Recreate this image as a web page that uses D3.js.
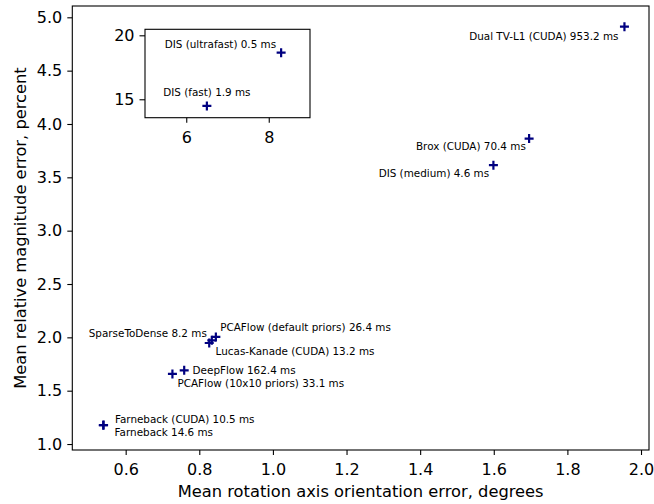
<!DOCTYPE html>
<html lang="en">
<head>
  <meta charset="UTF-8">
  <title>Optical flow error comparison</title>
  <script src="https://d3js.org/d3.v7.min.js"></script>
  <style>
    body { margin: 0; background: #fff; }
    text { font-family: "DejaVu Sans", sans-serif; }
  </style>
</head>
<body>
<svg width="654" height="504"></svg>
<script>
  // main plot data
  var methods = [
    'Dual TV-L1 (CUDA) 953.2 ms',
    'Brox (CUDA) 70.4 ms',
    'DIS (medium) 4.6 ms',
    'PCAFlow (default priors) 26.4 ms',
    'SparseToDense 8.2 ms',
    'Lucas-Kanade (CUDA) 13.2 ms',
    'DeepFlow 162.4 ms',
    'PCAFlow (10x10 priors) 33.1 ms',
    'Farneback (CUDA) 10.5 ms',
    'Farneback 14.6 ms'
  ];
  var rotationError = [1.955, 1.696, 1.599, 0.845, 0.834, 0.827, 0.759, 0.727, 0.539, 0.540];
  var magnitudeError = [4.912, 3.863, 3.614, 2.004, 1.972, 1.947, 1.691, 1.657, 1.176, 1.178];

  // inset data (fast DIS presets)
  var insetMethods = ['DIS (ultrafast) 0.5 ms', 'DIS (fast) 1.9 ms'];
  var insetRotation = [8.3, 6.5];
  var insetMagnitude = [18.64, 14.48];

  var xTicks = [0.6, 0.8, 1.0, 1.2, 1.4, 1.6, 1.8, 2.0];
  var yTicks = [1.0, 1.5, 2.0, 2.5, 3.0, 3.5, 4.0, 4.5, 5.0];
  var insetXTicks = [6, 8];
  var insetYTicks = [15, 20];

  // label placement: [anchor, dx, dy]
  var labelPlace = [
    ['end', -6, 13], ['end', -3.3, 11.3], ['end', -4.3, 11.4],
    ['start', 4.3, -5.6], ['end', -5, -3.4], ['start', 6.4, 12.4],
    ['start', 8.4, 3.3], ['start', 5, 13], ['start', 11.7, -2.6],
    ['start', 11, 10.7]
  ];
  var insetLabelPlace = [['end', -5, -4.4], ['middle', 0, -10]];

  var markColor = '#000080';
  var svg = d3.select('svg');
  var margin = {top: 6, right: 5, bottom: 54, left: 72.3};
  var width = +svg.attr('width') - margin.left - margin.right;
  var height = +svg.attr('height') - margin.top - margin.bottom;

  var g = svg.append('g')
    .attr('transform', 'translate(' + margin.left + ',' + margin.top + ')');

  var x = d3.scaleLinear().domain([0.455, 2.0217]).range([0, width]);
  var y = d3.scaleLinear().domain([0.944, 5.106]).range([height, 0]);

  function styleAxis(sel) {
    sel.select('.domain').remove();
    sel.selectAll('line').attr('stroke', '#000').attr('stroke-width', 1.1);
    sel.selectAll('text').attr('font-size', '16px').attr('fill', '#000')
      .style('font-family', '"DejaVu Sans", sans-serif');
  }

  g.append('g')
    .attr('transform', 'translate(0,' + height + ')')
    .call(d3.axisBottom(x).tickValues(xTicks).tickFormat(d3.format('.1f')).tickSize(5).tickPadding(8.5))
    .call(styleAxis);

  g.append('g')
    .call(d3.axisLeft(y).tickValues(yTicks).tickFormat(d3.format('.1f')).tickSize(5).tickPadding(5))
    .call(styleAxis);

  g.append('rect')
    .attr('width', width).attr('height', height)
    .attr('fill', 'none').attr('stroke', '#000').attr('stroke-width', 1.1);

  function plus(sel, size) {
    sel.append('path')
      .attr('d', 'M' + (-size) + ',0H' + size + 'M0,' + (-size) + 'V' + size)
      .attr('stroke', markColor).attr('stroke-width', 2.2).attr('fill', 'none');
  }

  var pts = g.selectAll('.pt')
    .data(methods)
    .enter().append('g')
    .attr('class', 'pt')
    .attr('transform', function (d, i) {
      return 'translate(' + x(rotationError[i]) + ',' + y(magnitudeError[i]) + ')';
    });
  plus(pts, 4.5);
  pts.append('text')
    .attr('font-size', '10.4px')
    .attr('text-anchor', function (d, i) { return labelPlace[i][0]; })
    .attr('x', function (d, i) { return labelPlace[i][1]; })
    .attr('y', function (d, i) { return labelPlace[i][2]; })
    .text(function (d) { return d; });

  // inset axes
  var inset = {left: 145, top: 29.3, width: 165, height: 88.4};
  var ig = svg.append('g')
    .attr('transform', 'translate(' + inset.left + ',' + inset.top + ')');
  var ix = d3.scaleLinear().domain([5, 9]).range([0, inset.width]);
  var iy = d3.scaleLinear().domain([13.56, 20.47]).range([inset.height, 0]);

  ig.append('rect')
    .attr('width', inset.width).attr('height', inset.height)
    .attr('fill', '#fff');

  ig.append('g')
    .attr('transform', 'translate(0,' + inset.height + ')')
    .call(d3.axisBottom(ix).tickValues(insetXTicks).tickFormat(d3.format('d')).tickSize(5).tickPadding(8.5))
    .call(styleAxis);

  ig.append('g')
    .call(d3.axisLeft(iy).tickValues(insetYTicks).tickFormat(d3.format('d')).tickSize(5.5).tickPadding(5))
    .call(styleAxis);

  ig.append('rect')
    .attr('width', inset.width).attr('height', inset.height)
    .attr('fill', 'none').attr('stroke', '#000').attr('stroke-width', 1.1);

  var ipts = ig.selectAll('.ipt')
    .data(insetMethods)
    .enter().append('g')
    .attr('class', 'ipt')
    .attr('transform', function (d, i) {
      return 'translate(' + ix(insetRotation[i]) + ',' + iy(insetMagnitude[i]) + ')';
    });
  plus(ipts, 4.5);
  ipts.append('text')
    .attr('font-size', '10.4px')
    .attr('text-anchor', function (d, i) { return insetLabelPlace[i][0]; })
    .attr('x', function (d, i) { return insetLabelPlace[i][1]; })
    .attr('y', function (d, i) { return insetLabelPlace[i][2]; })
    .text(function (d) { return d; });

  // axis titles
  svg.append('text')
    .attr('x', margin.left + width / 2)
    .attr('y', 497)
    .attr('text-anchor', 'middle')
    .attr('font-size', '16.3px')
    .text('Mean rotation axis orientation error, degrees');

  svg.append('text')
    .attr('transform', 'translate(25.5,' + (margin.top + height / 2) + ') rotate(-90)')
    .attr('text-anchor', 'middle')
    .attr('font-size', '16.3px')
    .text('Mean relative magnitude error, percent');
</script>
</body>
</html>
